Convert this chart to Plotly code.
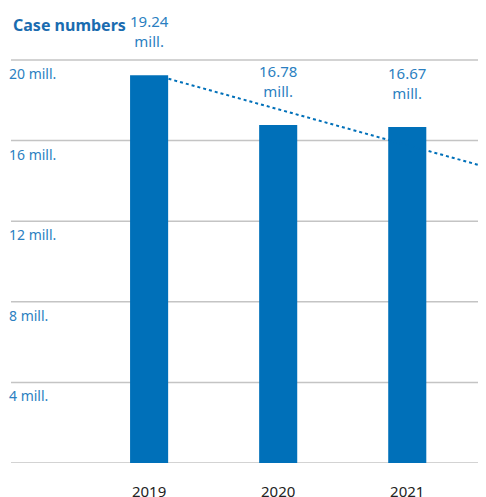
import plotly.graph_objects as go

years = [2019, 2020, 2021]
cases = [19.24, 16.78, 16.67]
bar_labels = ["19.24<br>mill.", "16.78<br>mill.", "16.67<br>mill."]
tick_vals = [4, 8, 12, 16, 20]
tick_labels = ["4 mill.", "8 mill.", "12 mill.", "16 mill.", "20 mill."]
trend_x = [2019.15, 2021.61]
trend_y = [19.07, 14.69]

BLUE = "#0070b9"
LBLUE = "#2b7fc1"
GRID = "#c4c4c4"
FONT = "Noto Sans"

fig = go.Figure()
fig.add_trace(go.Bar(x=years, y=cases, width=0.295, marker=dict(color=BLUE, line=dict(width=0)),
                     hoverinfo="skip"))
fig.add_trace(go.Scatter(x=trend_x, y=trend_y, mode="lines",
                         line=dict(color=BLUE, width=2, dash="dot"), hoverinfo="skip"))

annotations = []
for x, y, t in zip(years, cases, bar_labels):
    annotations.append(dict(x=x, y=y, xref="x", yref="y", text=t, showarrow=False,
                            yanchor="bottom", yshift=22,
                            font=dict(family=FONT, size=15, color=LBLUE)))
for v, t in zip(tick_vals, tick_labels):
    annotations.append(dict(x=0, xref="paper", xshift=-4, y=v, yref="y", text=t, showarrow=False,
                            xanchor="left", yanchor="top", yshift=-2,
                            font=dict(family=FONT, size=14, color=LBLUE)))
annotations.append(dict(x=0, y=max(tick_vals), xref="paper", yref="y", text="<b>Case numbers</b>",
                        showarrow=False, xanchor="left", yanchor="bottom", yshift=22,
                        font=dict(family=FONT, size=16, color="#1a6cb0")))

shapes = [dict(type="line", xref="paper", x0=0, x1=1, yref="y", y0=v, y1=v,
               line=dict(color=GRID, width=1.5), layer="below") for v in [0] + tick_vals]

fig.update_layout(
    width=478, height=489,
    margin=dict(l=3, r=0, t=48, b=34, autoexpand=False),
    paper_bgcolor="white", plot_bgcolor="white",
    showlegend=False,
    annotations=annotations,
    shapes=shapes,
    xaxis=dict(range=[2017.93, 2021.61], tickvals=years, ticktext=[str(y) for y in years],
               showgrid=False, zeroline=False, showline=False, ticks="",
               ticklabelstandoff=18, automargin=False,
               tickfont=dict(family=FONT, size=15, color="#222222")),
    yaxis=dict(range=[0, 20.2], tickvals=[0] + tick_vals, showticklabels=False, automargin=False,
               showgrid=False, zeroline=False, showline=False),
)
fig.write_html("out.html")
